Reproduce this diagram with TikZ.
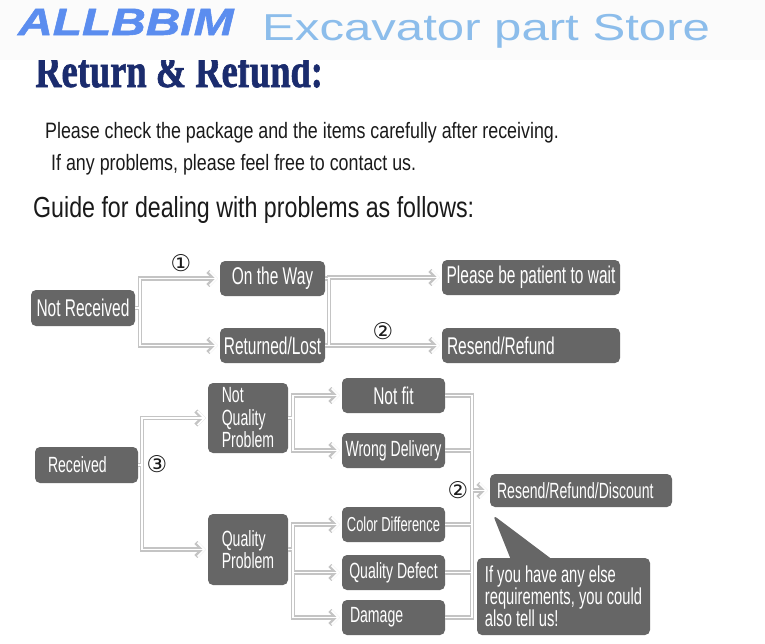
\documentclass[tikz,border=0pt]{standalone}
\usepackage{fontspec}
\usepackage{tikz}
\usetikzlibrary{arrows.meta,shapes.callouts}
\setmainfont{Liberation Sans}
\newfontfamily\boxfont[FakeStretch=0.64]{Liberation Sans}
\newfontfamily\bodyfont[FakeStretch=0.8]{Liberation Sans}
\newfontfamily\brandfont[FakeStretch=1.26,FakeBold=1.5]{Liberation Sans}
\newfontfamily\storefont[FakeStretch=1.31]{Liberation Sans}
\newfontfamily\headfont[FakeStretch=0.76,FakeBold=1.2]{Liberation Serif}
\newfontfamily\numfont{DejaVu Sans}

\definecolor{boxgray}{HTML}{666666}
\definecolor{wiregray}{HTML}{C4C4C4}
\definecolor{brandblue}{HTML}{5B8DEF}
\definecolor{storeblue}{HTML}{8CBDEB}
\definecolor{navy}{HTML}{1B2C6E}
\definecolor{ink}{HTML}{1A1A1A}

\tikzset{
  box/.style={fill=boxgray, rounded corners=5pt, text=white, inner sep=0pt,
    font=\boxfont\fontsize{24.2}{25}\selectfont},
  midbox/.style={box, font=\boxfont\fontsize{22}{22.5}\selectfont},
  smallbox/.style={box, font=\boxfont\fontsize{20.2}{21}\selectfont},
  lefttext/.style={align=left, text width=#1},
  wire/.style={draw=wiregray, line width=4.2pt},
  core/.style={draw=white, line width=1.8pt},
  chev/.style={-{Straight Barb[length=7pt,width=14pt]}, shorten >=2pt},
  num/.style={font=\numfont\fontsize{23}{23}\selectfont, text=ink, inner sep=0pt},
  line/.style={anchor=base west, inner sep=0pt, text=ink},
}

% both passes of the double connectors
\newcommand\wires[1]{%
  \foreach \a/\b in {nrec/j1, way/j2, lost/j2, rec/j3, nqp/j4, qp/j5,
                     nfit/j6, wdel/j6, cdif/j6, qdef/j6, dmg/j6}
    \draw[#1] (\a.east) -| (\b);
  \foreach \a/\b in {j1/way, j1/lost, j2/wait, j2/rr, j3/nqp, j3/qp,
                     j4/nfit, j4/wdel, j5/cdif, j5/qdef, j5/dmg, j6/rrd}
    \draw[#1, chev] (\a) |- (\b.west);
}

\begin{document}
\begin{tikzpicture}[x=1pt, y=-1pt]
\useasboundingbox[fill=white] (0,0) rectangle (765,643);

% header
\node[anchor=base west, inner sep=0pt, text=navy, font=\headfont\bfseries\fontsize{48}{48}\selectfont] (title) at (35,87) {Return \& Refund:};
\fill[gray!3] (0,0) rectangle (765,60);
\node[anchor=base west, inner sep=0pt, text=brandblue, font=\brandfont\bfseries\itshape\fontsize{38}{38}\selectfont] (brand) at (18,35) {ALLBBIM};
\node[anchor=base west, inner sep=0pt, text=storeblue, font=\storefont\fontsize{37.5}{38}\selectfont] (store) at (262,40) {Excavator part Store};

\node[line, font=\bodyfont\fontsize{22.3}{24}\selectfont] (check) at (45,138) {Please check the package and the items carefully after receiving.};
\node[line, font=\bodyfont\fontsize{22.3}{24}\selectfont] (contact) at (51,170) {If any problems, please feel free to contact us.};
\node[line, font=\bodyfont\fontsize{29}{30}\selectfont] (guide) at (33,217) {Guide for dealing with problems as follows:};

% not received
\node[box, minimum width=104pt, minimum height=36pt] (nrec) at (83,308) {Not Received};
\node[box, minimum width=105pt, minimum height=35pt] (way) at (272.5,278.5) {On the Way};
\node[box, minimum width=105pt, minimum height=35pt] (lost) at (272.5,345.5) {Returned/Lost};
\node[box, minimum width=178pt, minimum height=35pt] (wait) at (531,277.5) {Please be patient to wait};
\node[box, minimum width=178pt, minimum height=35pt, lefttext=168pt] (rr) at (531,345.5) {Resend/Refund};

% received
\node[midbox, minimum width=103pt, minimum height=36pt, lefttext=77pt] (rec) at (86.5,465) {Received};
\node[midbox, minimum width=80pt, minimum height=70pt, align=left] (nqp) at (248,418) {Not\\Quality\\Problem};
\node[midbox, minimum width=80pt, minimum height=71pt, align=left] (qp) at (248,549.5) {Quality\\Problem};
\node[box, minimum width=103pt, minimum height=35pt] (nfit) at (393.5,395.5) {Not fit};
\node[midbox, minimum width=103pt, minimum height=35pt] (wdel) at (393.5,450.5) {Wrong Delivery};
\node[smallbox, minimum width=103pt, minimum height=35pt] (cdif) at (393.5,524.5) {Color Difference};
\node[midbox, minimum width=103pt, minimum height=35pt] (qdef) at (393.5,572.5) {Quality Defect};
\node[midbox, minimum width=103pt, minimum height=35pt, lefttext=87pt] (dmg) at (393.5,617.5) {Damage};
\node[midbox, minimum width=182pt, minimum height=33pt, lefttext=168pt] (rrd) at (581,490.5) {Resend/Refund/Discount};
\node[box, rectangle callout, callout absolute pointer={(493,515)}, callout pointer width=40pt,
  minimum width=173pt, minimum height=77pt, align=left,
  font=\boxfont\fontsize{23}{22}\selectfont] (note) at (563.5,596.5) {If you have any else\\requirements, you could\\also tell us!};

\coordinate (j1) at (140,308);
\coordinate (j2) at (329,312);
\coordinate (j3) at (142,465);
\coordinate (j4) at (293,418);
\coordinate (j5) at (293,549.5);
\coordinate (j6) at (472,490.5);

\wires{wire}
\wires{core}

\node[num] (n1) at (181,263) {①};
\node[num] (n2) at (383,331) {②};
\node[num] (n3) at (157,464) {③};
\node[num] (n4) at (458,490) {②};
\end{tikzpicture}
\end{document}
